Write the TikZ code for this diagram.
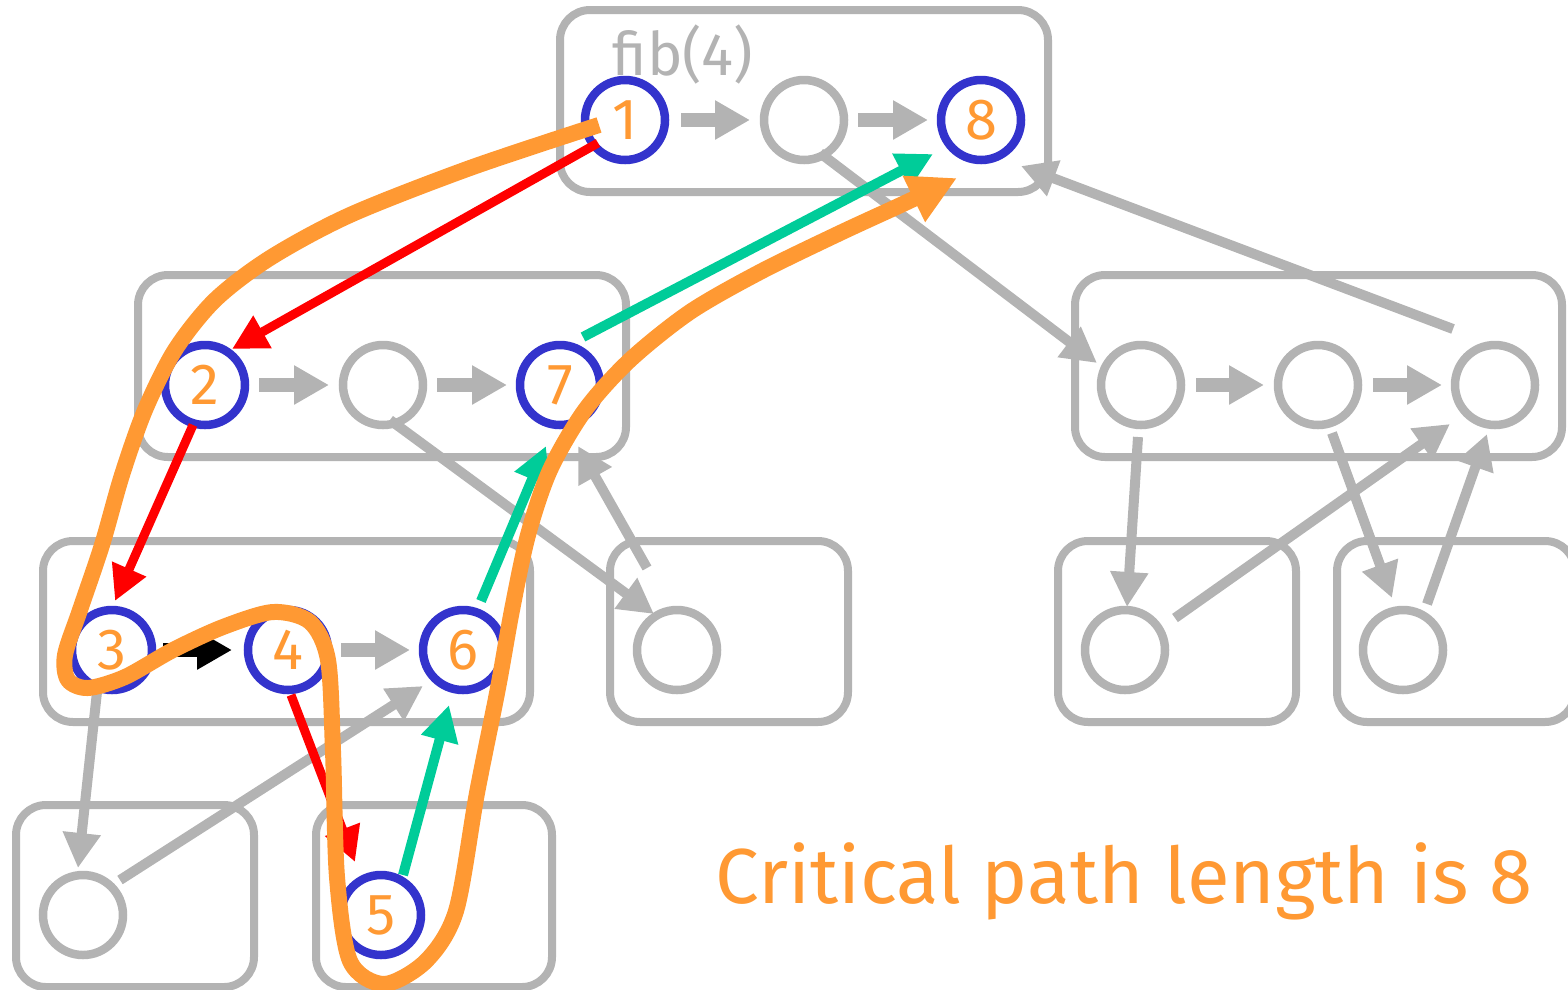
\documentclass[tikz,border=0pt]{standalone}
\usepackage{fontspec}
\setmainfont{Fira Sans}
\usetikzlibrary{arrows.meta,calc}
\definecolor{fgray}{RGB}{179,179,179}
\definecolor{fblue}{RGB}{51,51,204}
\definecolor{forange}{RGB}{255,153,51}
\definecolor{fred}{RGB}{255,0,0}
\definecolor{fgreen}{RGB}{0,204,153}
\begin{document}
\begin{tikzpicture}[x=1pt,y=-1pt,
  frame/.style={draw=fgray,line width=8pt,rounded corners=30pt,inner sep=0pt,outer sep=0pt},
  task/.style={circle,draw=fgray,line width=8.5pt,minimum size=80pt,inner sep=0pt,outer sep=0pt},
  crit/.style={task,draw=fblue,text=forange,font=\fontsize{58}{58}\selectfont},
  hop/.style={draw=fgray,line width=14pt,-{Triangle[length=35pt,width=37pt]}},
  hopblack/.style={hop,draw=black,fill=black},
  spawn/.style={draw=fgray,line width=10pt,-{Triangle[length=35pt,width=36pt]}},
  redge/.style={draw=fred,line width=9pt,-{Triangle[length=35pt,width=35pt]}},
  gedge/.style={draw=fgreen,line width=10pt,-{Triangle[length=36pt,width=36pt]}},
  cpath/.style={draw=forange,line width=16pt,line join=round,-{Triangle[length=48pt,width=48pt]}}
]
\useasboundingbox (0,0) rectangle (1568,989);

% frames of the procedure instances
\node[frame,minimum width=488pt,minimum height=182pt] (fa) at (804,101) {};
\node[frame,minimum width=488pt,minimum height=182pt] (fb) at (382,366) {};
\node[frame,minimum width=487pt,minimum height=182pt] (fc) at (1318.5,366) {};
\node[frame,minimum width=487pt,minimum height=181pt] (fd) at (286.5,631.5) {};
\node[frame,minimum width=238pt,minimum height=181pt] (fe) at (729,631.5) {};
\node[frame,minimum width=238pt,minimum height=181pt] (ff) at (1177,631.5) {};
\node[frame,minimum width=238pt,minimum height=181pt] (fg) at (1456,631.5) {};
\node[frame,minimum width=238pt,minimum height=182pt] (fh) at (135,896) {};
\node[frame,minimum width=236pt,minimum height=182pt] (fi) at (434,896) {};

\node[text=fgray,font=\fontsize{60}{60}\selectfont] (lbl) at (683,54) {fib(4)};

% strands
\node[crit] (n1) at (625,120) {1};
\node[task] (t2) at (804,120) {};
\node[crit] (n8) at (981,120) {8};

\node[crit] (n2) at (205,385) {2};
\node[task] (b1) at (383,385) {};
\node[crit] (n7) at (560,385) {7};

\node[task] (r1) at (1141,385) {};
\node[task] (r2) at (1318,385) {};
\node[task] (r3) at (1495,385) {};

\node[crit] (n3) at (112,650) {3};
\node[crit] (n4) at (288,650) {4};
\node[crit] (n6) at (463,650) {6};
\node[task] (e1) at (677,650) {};
\node[task] (f1) at (1125,650) {};
\node[task] (g1) at (1403,650) {};

\node[task] (h1) at (83,915) {};
\node[crit] (n5) at (381,915) {5};

% continue edges
\draw[hop] ($(n1)+(56,0)$) -- ($(t2)+(-54,0)$);
\draw[hop] ($(t2)+(54,0)$) -- ($(n8)+(-53,0)$);
\draw[hop] ($(n2)+(54,0)$) -- ($(b1)+(-54,0)$);
\draw[hop] ($(b1)+(54,0)$) -- ($(n7)+(-53,0)$);
\draw[hop] ($(r1)+(55,0)$) -- ($(r2)+(-54,0)$);
\draw[hop] ($(r2)+(55,0)$) -- ($(r3)+(-53,0)$);
\draw[hopblack] ($(n3)+(51,0)$) -- ($(n4)+(-56,0)$);
\draw[hop] ($(n4)+(53,0)$) -- ($(n6)+(-53,0)$);

% spawn and return edges
\draw[spawn] ($(t2)+(16,33)$) -- ($(r1)+(-44,-22)$);
\draw[spawn] ($(r3)+(-42,-56)$) -- ($(fa.south east)+(-27,-26)$);
\draw[spawn] ($(b1)+(7,35)$) -- ($(e1)+(-23,-36)$);
\draw[spawn] ($(e1)+(-30,-82)$) -- ($(n7)+(18,61)$);
\draw[spawn] ($(r1)+(-3,52)$) -- ($(f1)+(2,-43)$);
\draw[spawn] ($(f1)+(50,-32)$) -- ($(r3)+(-45,39)$);
\draw[spawn] ($(r2)+(14,48)$) -- ($(g1)+(-11,-52)$);
\draw[spawn] ($(g1)+(24,-46)$) -- ($(r3)+(-8,49)$);
\draw[spawn] ($(n3)+(-15,42)$) -- ($(h1)+(-5,-47)$);
\draw[spawn] ($(h1)+(37,-35)$) -- ($(n6)+(-40,36)$);

% spawn edges on the critical path
\draw[redge] ($(n1)+(-27,23)$) -- ($(n2)+(27,-36)$);
\draw[redge] ($(n2)+(-12,40)$) -- ($(n3)+(3,-49)$);
\draw[redge] ($(n4)+(3,45)$) -- ($(n5)+(-26,-53)$);

% return edges on the critical path
\draw[gedge] ($(n5)+(22,-40)$) -- ($(n6)+(-14,55)$);
\draw[gedge] ($(n6)+(18,-49)$) -- ($(n7)+(-14,61)$);
\draw[gedge] ($(n7)+(23,-48)$) -- ($(n8)+(-48,34)$);

% the critical path
\coordinate (ctip) at ($(n8)+(-24,58)$);
\draw[cpath] plot[smooth,tension=0.5] coordinates {
  ($(n1)+(-26,5)$) (470,168) (350,215) (270,258) (215,300) (175,350)
  (145,410) (122,475) (102,545) (80,610) (65,655) (68,680) (88,688)
  (125,677) (173,650) (223,627) (273,612) (310,622) (328,660) (333,751)
  (337,877) (350,961) (384,984) (426,961) (456,911) (477,793) (498,688)
  (512,610) (528,535) (550,470) (585,410) (630,360) (690,312) (760,272)
  (840,233) (905,203) (ctip)};

\node[text=forange,anchor=base west,font=\fontsize{78}{78}\selectfont] (cap) at (712,903) {Critical path length is 8};
\end{tikzpicture}
\end{document}
